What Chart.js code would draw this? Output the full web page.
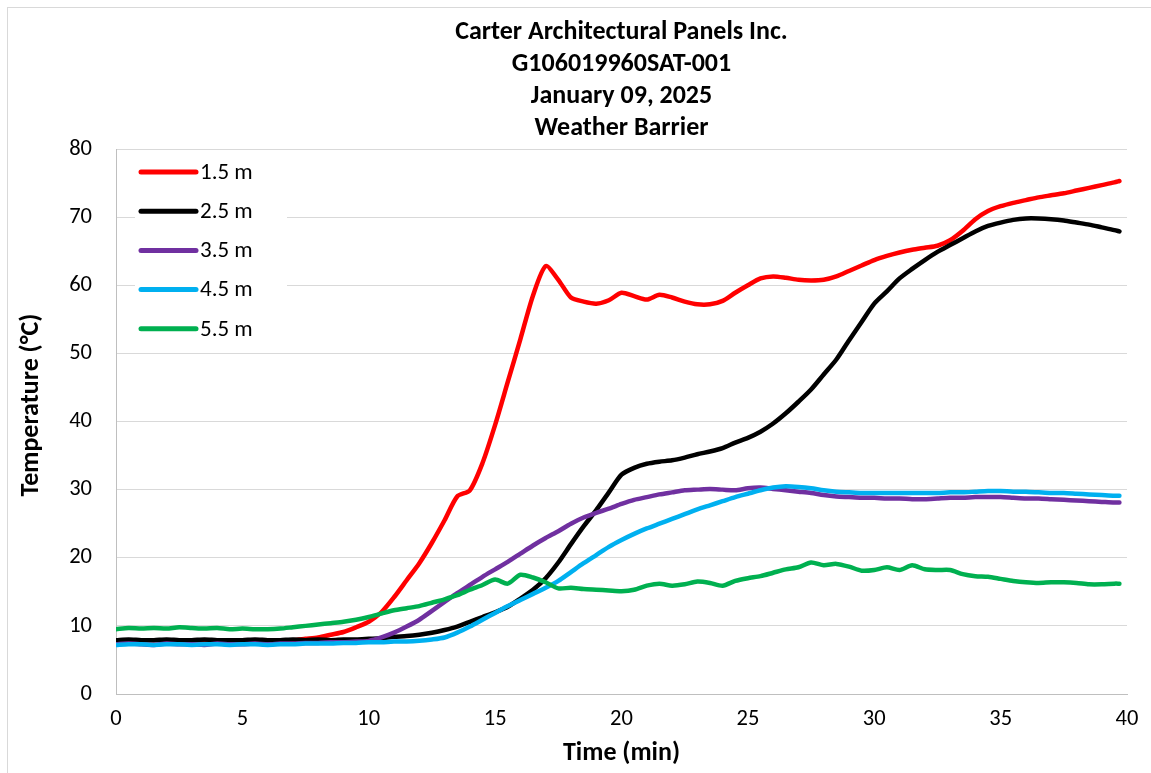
<!DOCTYPE html>
<html lang="en">
  <head>
    <meta charset="UTF-8">
    <title>Weather Barrier</title>
    <script src="https://cdn.jsdelivr.net/npm/chart.js@4.4.1/dist/chart.umd.min.js"></script>
    <style>
      body { margin: 0; background: #fff; }
      .frame { position: absolute; left: 7px; top: 7px; width: 1200px; height: 800px; border: 1px solid #d9d9d9; }
      #tempChart { position: absolute; left: 0; top: 0; }
    </style>
  </head>
  <body>

<div class="frame"></div>
<canvas id="tempChart" width="1151" height="773"></canvas>

<script>
// chart text
var titleLines = ['Carter Architectural Panels Inc.', 'G106019960SAT-001', 'January 09, 2025', 'Weather Barrier'];
var xTitle = 'Time (min)';
var yTitle = 'Temperature (°C)';
var seriesNames = ['1.5 m', '2.5 m', '3.5 m', '4.5 m', '5.5 m'];

// time (min), one row per 5 minutes
var times = [
  0, 0.5, 1, 1.5, 2, 2.5, 3, 3.5, 4, 4.5,
  5, 5.5, 6, 6.5, 7, 7.5, 8, 8.5, 9, 9.5,
  10, 10.5, 11, 11.5, 12, 12.5, 13, 13.5, 14, 14.5,
  15, 15.5, 16, 16.5, 17, 17.5, 18, 18.5, 19, 19.5,
  20, 20.5, 21, 21.5, 22, 22.5, 23, 23.5, 24, 24.5,
  25, 25.5, 26, 26.5, 27, 27.5, 28, 28.5, 29, 29.5,
  30, 30.5, 31, 31.5, 32, 32.5, 33, 33.5, 34, 34.5,
  35, 35.5, 36, 36.5, 37, 37.5, 38, 38.5, 39, 39.5,
  39.7
];

var temp15 = [
  7.9, 7.9, 7.9, 7.9, 7.9, 7.9, 7.9, 7.9, 7.9, 7.9,
  7.9, 7.9, 7.9, 7.9, 7.9, 8.1, 8.3, 8.7, 9.1, 9.8,
  10.6, 12.0, 14.2, 16.7, 19.2, 22.2, 25.5, 29.0, 29.9, 33.9,
  39.5, 45.8, 52.1, 58.5, 62.8, 60.8, 58.2, 57.6, 57.3, 57.8,
  58.9, 58.4, 57.9, 58.6, 58.2, 57.6, 57.2, 57.2, 57.7, 58.9,
  60.0, 61.0, 61.3, 61.1, 60.8, 60.7, 60.8, 61.3, 62.1, 62.9,
  63.7, 64.3, 64.8, 65.2, 65.5, 65.8, 66.6, 68.0, 69.7, 70.9,
  71.6, 72.1, 72.5, 72.9, 73.2, 73.5, 73.9, 74.3, 74.7, 75.1,
  75.3
];

var temp25 = [
  7.9, 8.0, 7.9, 7.9, 8.0, 7.9, 7.9, 8.0, 7.9, 7.9,
  7.9, 8.0, 7.9, 7.9, 8.0, 7.9, 8.0, 7.9, 8.0, 8.0,
  8.1, 8.2, 8.4, 8.5, 8.7, 9.0, 9.4, 9.9, 10.6, 11.3,
  12.0, 12.8, 14.0, 15.3, 17.0, 19.3, 22.0, 24.6, 27.0, 29.6,
  32.2, 33.2, 33.8, 34.1, 34.3, 34.7, 35.2, 35.6, 36.1, 36.9,
  37.6, 38.5, 39.7, 41.2, 42.9, 44.7, 46.9, 49.1, 51.9, 54.6,
  57.3, 59.1, 61.0, 62.4, 63.7, 64.9, 65.9, 66.9, 67.9, 68.7,
  69.2, 69.6, 69.8, 69.8, 69.7, 69.5, 69.2, 68.9, 68.5, 68.1,
  67.9
];

var temp35 = [
  7.3, 7.4, 7.3, 7.2, 7.4, 7.3, 7.3, 7.2, 7.4, 7.3,
  7.3, 7.4, 7.3, 7.4, 7.4, 7.5, 7.5, 7.6, 7.6, 7.7,
  7.8, 8.3, 9.0, 9.9, 10.9, 12.2, 13.5, 14.8, 16.0, 17.2,
  18.3, 19.4, 20.6, 21.8, 22.9, 23.9, 25.0, 25.9, 26.6, 27.2,
  27.9, 28.5, 28.9, 29.3, 29.6, 29.9, 30.0, 30.1, 30.0, 29.9,
  30.2, 30.3, 30.1, 29.9, 29.7, 29.5, 29.2, 29.0, 28.9, 28.8,
  28.8, 28.7, 28.7, 28.6, 28.6, 28.7, 28.8, 28.8, 28.9, 28.9,
  28.9, 28.8, 28.7, 28.7, 28.6, 28.5, 28.4, 28.3, 28.2, 28.1,
  28.1
];

var temp45 = [
  7.2, 7.3, 7.3, 7.2, 7.3, 7.3, 7.2, 7.3, 7.3, 7.2,
  7.3, 7.3, 7.2, 7.3, 7.3, 7.4, 7.4, 7.4, 7.5, 7.5,
  7.6, 7.6, 7.7, 7.7, 7.8, 8.0, 8.3, 9.0, 9.9, 10.9,
  11.9, 12.9, 13.8, 14.7, 15.6, 16.6, 17.9, 19.2, 20.4, 21.6,
  22.6, 23.5, 24.3, 25.0, 25.7, 26.4, 27.1, 27.7, 28.3, 28.9,
  29.4, 29.9, 30.3, 30.5, 30.4, 30.2, 29.9, 29.7, 29.6, 29.5,
  29.5, 29.5, 29.5, 29.5, 29.5, 29.5, 29.6, 29.6, 29.7, 29.8,
  29.8, 29.7, 29.7, 29.6, 29.5, 29.5, 29.4, 29.3, 29.2, 29.1,
  29.1
];

var temp55 = [
  9.5, 9.7, 9.6, 9.7, 9.6, 9.8, 9.7, 9.6, 9.7, 9.5,
  9.6, 9.5, 9.5, 9.6, 9.8, 10.0, 10.2, 10.4, 10.6, 10.9,
  11.3, 11.8, 12.3, 12.6, 12.9, 13.4, 13.9, 14.5, 15.3, 16.0,
  16.8, 16.2, 17.5, 17.1, 16.4, 15.5, 15.6, 15.4, 15.3, 15.2,
  15.1, 15.3, 15.9, 16.2, 15.9, 16.1, 16.5, 16.3, 15.9, 16.6,
  17.0, 17.3, 17.8, 18.3, 18.6, 19.3, 18.9, 19.1, 18.7, 18.1,
  18.2, 18.6, 18.2, 18.9, 18.3, 18.2, 18.2, 17.6, 17.3, 17.2,
  16.9, 16.6, 16.4, 16.3, 16.4, 16.4, 16.3, 16.1, 16.1, 16.2,
  16.2
];

var seriesValues = [temp15, temp25, temp35, temp45, temp55];
var seriesColors = ['#ff0000', '#000000', '#7030a0', '#00b0f0', '#00b050'];

var fontFamily = "Carlito, Calibri, Lato, sans-serif";

function toPoints(values) {
  var pts = [];
  for (let i = 0; i < values.length; i++) {
    pts.push({x: times[i], y: values[i]});
  }
  return pts;
}

var datasets = [];
for (let i = 0; i < seriesNames.length; i++) {
  datasets.push({
    label: seriesNames[i],
    data: toPoints(seriesValues[i]),
    borderColor: seriesColors[i],
    backgroundColor: seriesColors[i],
    borderWidth: 4.5,
    pointRadius: 0,
    tension: 0.25,
    borderCapStyle: 'round',
    borderJoinStyle: 'round',
    // excel draws later series on top
    order: seriesNames.length - i
  });
}

// title centred over the plot area, y title a bit above the plot middle
var titlePlugin = {
  id: 'stackedTitle',
  afterDraw: function(chart) {
    var ctx = chart.ctx;
    var cx = (chart.chartArea.left + chart.chartArea.right) / 2;
    ctx.save();
    ctx.fillStyle = '#000';
    ctx.font = 'bold 26px ' + fontFamily;
    ctx.textAlign = 'center';
    ctx.textBaseline = 'middle';
    for (let i = 0; i < titleLines.length; i++) {
      ctx.fillText(titleLines[i], cx, 32 + i * 32.3);
    }
    ctx.translate(31, 405);
    ctx.rotate(-Math.PI / 2);
    ctx.fillText(yTitle, 0, 0);
    ctx.restore();
  }
};

// vertical legend inside the plot, top left
var legendPlugin = {
  id: 'insideLegend',
  afterDatasetsDraw: function(chart) {
    var ctx = chart.ctx;
    var left = chart.chartArea.left;
    ctx.save();
    ctx.fillStyle = '#fff';
    ctx.fillRect(left + 19, 152, 152, 192);
    ctx.font = '23px ' + fontFamily;
    ctx.textBaseline = 'middle';
    ctx.textAlign = 'left';
    chart.data.datasets.forEach(function(ds, i) {
      var y = 172 + i * 39.2;
      ctx.strokeStyle = ds.borderColor;
      ctx.lineWidth = 5;
      ctx.lineCap = 'round';
      ctx.beginPath();
      ctx.moveTo(left + 25, y);
      ctx.lineTo(left + 80, y);
      ctx.stroke();
      ctx.fillStyle = '#000';
      ctx.fillText(ds.label, left + 84, y + 1);
    });
    ctx.restore();
  }
};

var ctx = document.getElementById('tempChart').getContext('2d');
var tempChart = new Chart(ctx, {
  type: 'line',
  data: { datasets: datasets },
  options: {
    responsive: false,
    animation: false,
    layout: { padding: { left: 8, right: 24, top: 149, bottom: 0 } },
    plugins: {
      legend: { display: false },
      title: { display: false },
      tooltip: { enabled: false }
    },
    scales: {
      x: {
        type: 'linear',
        min: 0,
        max: 40,
        afterFit: function(scale) { scale.height = 79; },
        ticks: {
          stepSize: 5,
          color: '#000',
          padding: 12,
          maxRotation: 0,
          font: { family: fontFamily, size: 22.5 }
        },
        grid: { display: false, drawTicks: false },
        border: { display: true, color: '#bfbfbf', width: 1 },
        title: {
          display: true,
          text: xTitle,
          color: '#000',
          padding: { top: 0, bottom: 4 },
          font: { family: fontFamily, size: 26, weight: 'bold' }
        }
      },
      y: {
        min: 0,
        max: 80,
        afterFit: function(scale) { scale.width = 108; },
        ticks: {
          stepSize: 10,
          color: '#000',
          padding: 24,
          font: { family: fontFamily, size: 22.5 }
        },
        grid: { color: '#d9d9d9', lineWidth: 1, drawTicks: false },
        border: { display: true, color: '#bfbfbf', width: 1 }
      }
    }
  },
  plugins: [titlePlugin, legendPlugin]
});
</script>

  </body>
</html>
